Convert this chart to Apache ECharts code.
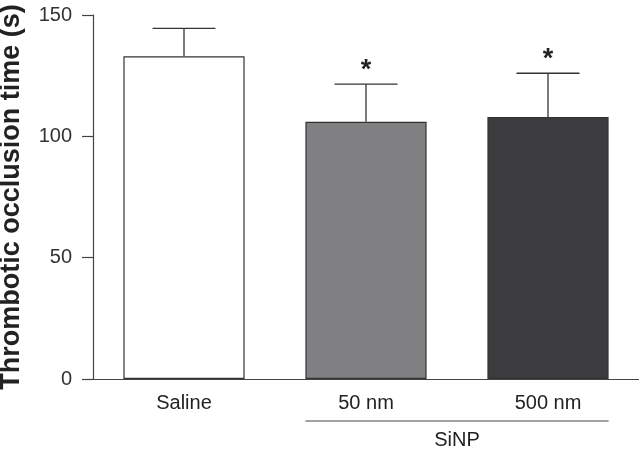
<!DOCTYPE html>
<html>
<head>
<meta charset="utf-8">
<script src="https://cdn.jsdelivr.net/npm/echarts@6/dist/echarts.min.js"></script>
<style>
  html, body { margin: 0; padding: 0; background: #fff; }
  #chart { width: 639px; height: 451px; }
</style>
</head>
<body>
<div id="chart"></div>
<script>
  // values
  const categories = ['Saline', '50 nm', '500 nm']
  const means = [133, 106, 108]
  const upperErr = [144.5, 121.5, 126]
  const marks = ['', '*', '*']
  const barColors = ['#ffffff', '#808083', '#3c3c3e']
  const groupLabel = 'SiNP'
  const groupCats = [1, 2] // categories under the SiNP bracket

  const FONT = '"Liberation Sans", Arial, sans-serif'
  const INK = '#333'

  const chart = echarts.init(document.getElementById('chart'), null, { renderer: 'canvas' })

  chart.setOption({
    animation: false,
    backgroundColor: '#fff',
    grid: { left: 93, right: 0, top: 15, bottom: 72, outerBoundsMode: 'none', containLabel: false },
    xAxis: {
      type: 'category',
      data: categories,
      axisLine: { lineStyle: { color: '#444', width: 1.2 } },
      axisTick: { show: false },
      axisLabel: { color: '#222', fontSize: 20, fontFamily: FONT, margin: 14 }
    },
    yAxis: {
      type: 'value',
      min: 0,
      max: 150,
      interval: 50,
      name: 'Thrombotic occlusion time (s)',
      nameLocation: 'middle',
      nameGap: 68,
      nameTextStyle: { color: '#222', fontSize: 27, fontWeight: 'bold', fontFamily: FONT },
      axisLine: { show: true, lineStyle: { color: '#444', width: 1.2 } },
      axisTick: { show: true, length: 11, lineStyle: { color: '#444', width: 1.2 } },
      axisLabel: { color: '#333', fontSize: 20, fontFamily: FONT, margin: 21 },
      splitLine: { show: false }
    },
    series: [
      {
        type: 'bar',
        barWidth: '66.6%',
        data: means.map((v, i) => ({
          value: v,
          itemStyle: { color: barColors[i], borderColor: INK, borderWidth: 1.2 }
        }))
      },
      {
        // error bars + significance stars
        type: 'custom',
        z: 5,
        data: means.map((v, i) => [i, v, upperErr[i]]),
        renderItem: function (params, api) {
          const i = api.value(0)
          const top = api.coord([i, api.value(1)])
          const hi = api.coord([i, api.value(2)])
          const half = api.size([1, 0])[0] * 0.173
          const style = { stroke: INK, lineWidth: 1.3 }
          const kids = [
            { type: 'line', shape: { x1: top[0], y1: top[1], x2: hi[0], y2: hi[1] }, style: style },
            { type: 'line', shape: { x1: hi[0] - half, y1: hi[1], x2: hi[0] + half, y2: hi[1] }, style: style }
          ]
          if (marks[i]) {
            kids.push({
              type: 'text',
              style: {
                text: marks[i], x: hi[0], y: hi[1] - 14,
                align: 'center', verticalAlign: 'middle',
                fill: '#222', fontSize: 27, fontWeight: 'bold', fontFamily: FONT
              }
            })
          }
          return { type: 'group', children: kids }
        }
      }
    ]
  })

  // SiNP bracket under the two nanoparticle groups, placed from the axis scale
  function drawGroup() {
    const a = chart.convertToPixel({ seriesIndex: 0 }, [groupCats[0], 0])
    const b = chart.convertToPixel({ seriesIndex: 0 }, [groupCats[1], 0])
    const band = b[0] - a[0]
    const halfBar = band * 0.333
    const y = a[1] + 42
    chart.setOption({
      graphic: [
        { type: 'line', shape: { x1: a[0] - halfBar, y1: y, x2: b[0] + halfBar, y2: y },
          style: { stroke: '#444', lineWidth: 1.2 } },
        { type: 'text', x: (a[0] + b[0]) / 2, y: y + 19,
          style: { text: groupLabel, align: 'center', verticalAlign: 'middle',
                   fill: '#222', fontSize: 20, fontFamily: FONT } }
      ]
    })
  }
  drawGroup()
</script>
</body>
</html>
